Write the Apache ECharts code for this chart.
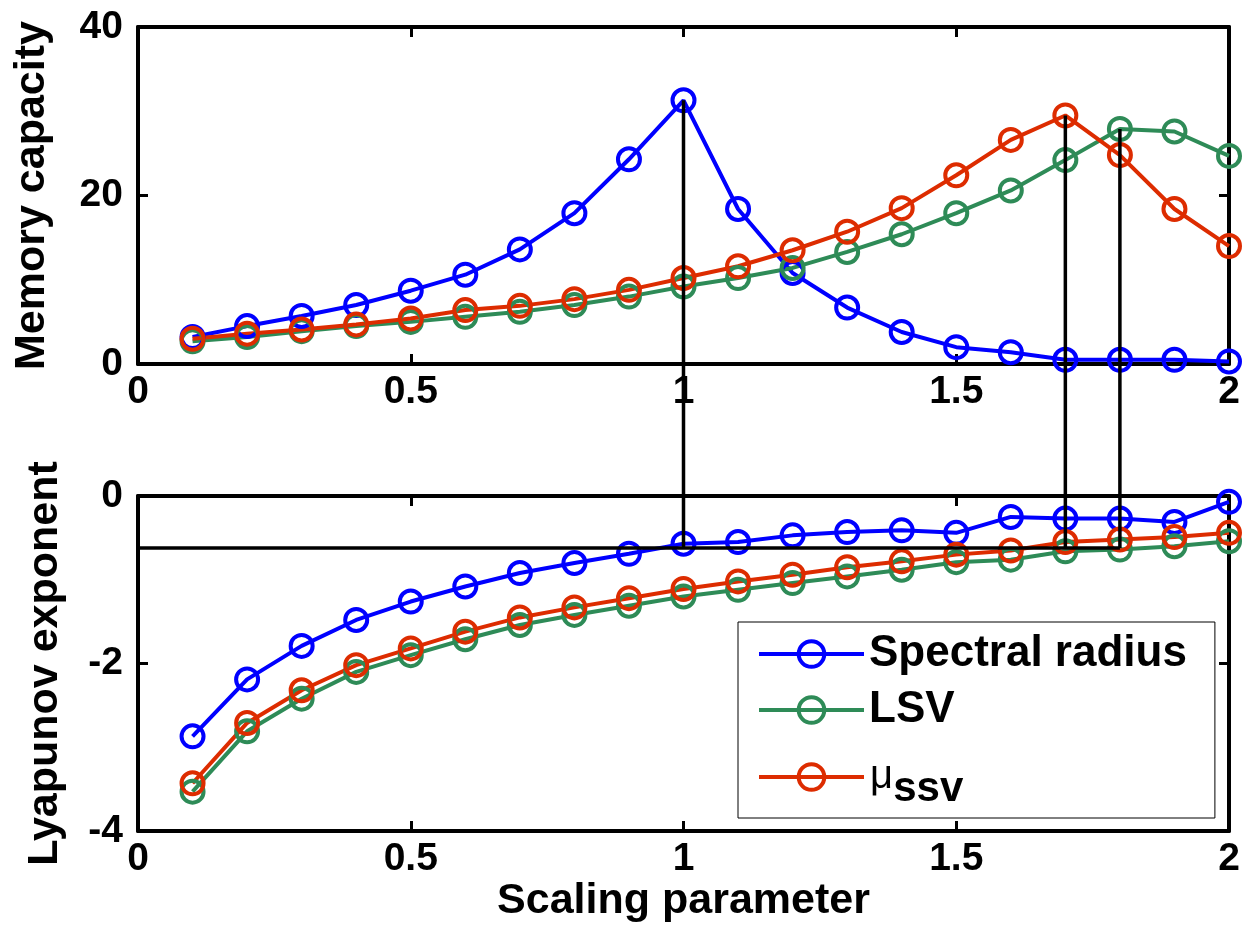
<!DOCTYPE html>
<html>
<head>
<meta charset="utf-8">
<title>Memory capacity / Lyapunov exponent</title>
<script src="https://cdn.jsdelivr.net/npm/echarts@6/dist/echarts.min.js"></script>
<style>
  html, body { margin: 0; padding: 0; background: #fff; }
  #chart { width: 1244px; height: 937px; }
</style>
</head>
<body>
<div id="chart"></div>
<script>
// scaling parameter values (x)
const scaling = [0.1, 0.2, 0.3, 0.4, 0.5, 0.6, 0.7, 0.8, 0.9, 1.0,
                 1.1, 1.2, 1.3, 1.4, 1.5, 1.6, 1.7, 1.8, 1.9, 2.0]

// memory capacity (top panel)
const specMC = [3.2, 4.5, 5.7, 7.0, 8.7, 10.6, 13.6, 17.9, 24.3, 31.3,
                18.4, 10.8, 6.7, 3.8, 2.0, 1.4, 0.5, 0.5, 0.5, 0.3]
const lsvMC = [2.7, 3.2, 3.9, 4.5, 5.0, 5.6, 6.2, 7.0, 8.0, 9.2,
               10.2, 11.4, 13.3, 15.4, 17.9, 20.6, 24.2, 27.9, 27.6, 24.7]
const ssvMC = [3.0, 3.6, 4.1, 4.7, 5.4, 6.4, 6.9, 7.7, 8.8, 10.2,
               11.6, 13.5, 15.7, 18.5, 22.4, 26.6, 29.5, 24.8, 18.4, 14.0]

// lyapunov exponent (bottom panel)
const specLE = [-2.87, -2.19, -1.79, -1.48, -1.26, -1.08, -0.92, -0.80, -0.69, -0.57,
                -0.55, -0.47, -0.43, -0.41, -0.44, -0.25, -0.27, -0.27, -0.31, -0.07]
const lsvLE = [-3.53, -2.81, -2.42, -2.10, -1.90, -1.71, -1.54, -1.42, -1.31, -1.20,
               -1.12, -1.04, -0.96, -0.88, -0.79, -0.76, -0.66, -0.64, -0.60, -0.54]
const ssvLE = [-3.43, -2.71, -2.32, -2.02, -1.82, -1.62, -1.45, -1.33, -1.22, -1.11,
               -1.02, -0.94, -0.85, -0.78, -0.70, -0.65, -0.55, -0.52, -0.49, -0.44]

// reference level and the peaks that are joined to it
const edgeLevel = -0.62
const levelX = [0, 1.8]
const peakX = [1.0, 1.7, 1.8]
const peakY = [specMC[9], ssvMC[16], lsvMC[17]]

const names = ['Spectral radius', 'LSV', 'μssv']
const colors = ['#0000FF', '#2E8B57', '#DD2C00']

const FONT = "'Liberation Sans', Arial, sans-serif"

const zip = (ys) => scaling.map((x, i) => [x, ys[i]])

function axisPair(gridIndex, dim, opts) {
  const base = {
    type: 'value',
    gridIndex,
    min: opts.min,
    max: opts.max,
    interval: opts.interval,
    axisLine: { show: true, onZero: false, lineStyle: { color: '#000', width: 4 } },
    axisTick: { show: true, inside: true, length: 10, lineStyle: { color: '#000', width: 3 } },
    splitLine: { show: false },
    axisLabel: {
      color: '#000',
      fontFamily: FONT,
      fontWeight: 'bold',
      fontSize: 39,
      margin: dim === 'x' ? 9 : 15
    }
  }
  const main = Object.assign({}, base, {
    position: dim === 'x' ? 'bottom' : 'left',
    name: opts.name || '',
    nameLocation: 'middle',
    nameGap: opts.nameGap || 0,
    nameTextStyle: { color: '#000', fontFamily: FONT, fontWeight: 'bold', fontSize: 43 }
  })
  const other = Object.assign({}, base, {
    position: dim === 'x' ? 'top' : 'right',
    axisLabel: { show: false }
  })
  return [main, other]
}

function lineSeries(name, color, ys, axisIdx) {
  return {
    name,
    type: 'line',
    xAxisIndex: axisIdx,
    yAxisIndex: axisIdx,
    data: zip(ys),
    symbol: 'circle',
    symbolSize: 22,
    lineStyle: { color, width: 4 },
    itemStyle: { color: 'rgba(255,255,255,0)', borderColor: color, borderWidth: 4 },
    emphasis: { disabled: true },
    animation: false
  }
}

const chart = echarts.init(document.getElementById('chart'))

const option = {
  backgroundColor: '#fff',
  animation: false,
  grid: [
    { left: 138, top: 27, width: 1091, height: 337 },
    { left: 138, top: 496, width: 1091, height: 335 }
  ],
  xAxis: [
    ...axisPair(0, 'x', { min: 0, max: 2, interval: 0.5 }),
    ...axisPair(1, 'x', { min: 0, max: 2, interval: 0.5, name: 'Scaling parameter', nameGap: 44 })
  ],
  yAxis: [
    ...axisPair(0, 'y', { min: 0, max: 40, interval: 20, name: 'Memory capacity', nameGap: 84 }),
    ...axisPair(1, 'y', { min: -4, max: 0, interval: 2, name: 'Lyapunov exponent', nameGap: 71 })
  ],
  legend: {
    data: names,
    orient: 'vertical',
    left: 738,
    top: 622,
    padding: [10, 28, 8, 19],
    itemWidth: 105,
    itemHeight: 32,
    itemGap: 12,
    borderColor: '#000',
    borderWidth: 1,
    backgroundColor: '#fff',
    selectedMode: false,
    lineStyle: { width: 4 },
    itemStyle: { borderWidth: 4 },
    textStyle: { color: '#000', fontFamily: FONT, fontWeight: 'bold', fontSize: 44,
      rich: {
        // tall invisible spacer so the mu row sits lower, as in the original
        gap: { fontSize: 4, lineHeight: 66, verticalAlign: 'top', backgroundColor: 'rgba(255,255,255,0)' },
        mu: { fontFamily: FONT, fontSize: 40, fontWeight: 'normal', color: '#000', lineHeight: 40, verticalAlign: 'middle' },
        sub: { fontFamily: FONT, fontSize: 42, fontWeight: 'bold', color: '#000', lineHeight: 30, verticalAlign: 'bottom' }
      }
    },
    formatter: (name) => name === 'μssv' ? '{gap| }{mu|μ}{sub|ssv}' : name
  },
  series: [
    lineSeries(names[0], colors[0], specMC, 0),
    lineSeries(names[1], colors[1], lsvMC, 0),
    lineSeries(names[2], colors[2], ssvMC, 0),
    lineSeries(names[0], colors[0], specLE, 2),
    lineSeries(names[1], colors[1], lsvLE, 2),
    lineSeries(names[2], colors[2], ssvLE, 2),
    {
      name: 'level',
      type: 'line',
      xAxisIndex: 2,
      yAxisIndex: 2,
      data: levelX.map((x) => [x, edgeLevel]),
      symbol: 'none',
      lineStyle: { color: '#000', width: 3.5 },
      silent: true,
      z: 5
    }
  ]
}

chart.setOption(option)

// vertical connectors from each peak (top panel) down to the level (bottom panel)
function drawConnectors() {
  const lines = peakX.map((x, k) => {
    const p0 = chart.convertToPixel({ xAxisIndex: 0, yAxisIndex: 0 }, [x, peakY[k]])
    const p1 = chart.convertToPixel({ xAxisIndex: 2, yAxisIndex: 2 }, [x, edgeLevel])
    return {
      type: 'line',
      z: 100,
      silent: true,
      shape: { x1: p0[0], y1: p0[1], x2: p1[0], y2: p1[1] },
      style: { stroke: '#000', lineWidth: 3.5 }
    }
  })
  chart.setOption({ graphic: lines })
}
drawConnectors()

window.addEventListener('resize', () => {
  chart.resize()
  drawConnectors()
})
</script>
</body>
</html>
